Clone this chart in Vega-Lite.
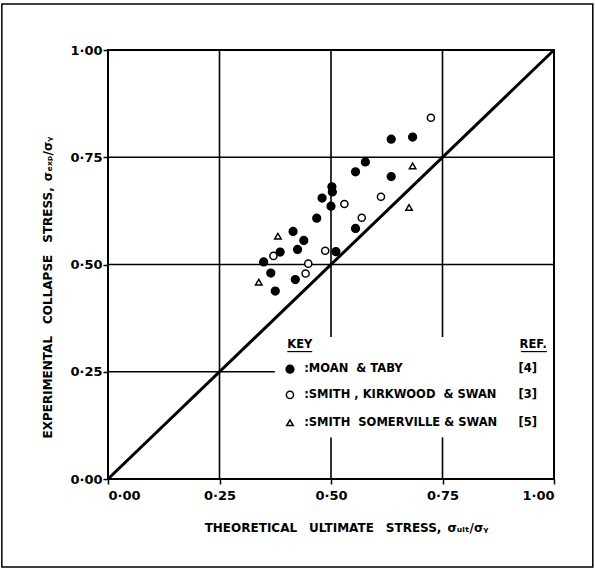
{
  "$schema": "https://vega.github.io/schema/vega-lite/v6.json",
  "width": 446,
  "height": 429,
  "autosize": {"type": "none"},
  "padding": {"left": 108, "top": 50, "right": 41, "bottom": 90},
  "background": "white",
  "config": {
    "view": {"stroke": "black", "strokeWidth": 2},
    "font": "DejaVu Sans",
    "axis": {
      "domain": false,
      "grid": false,
      "ticks": true,
      "tickColor": "black",
      "tickSize": 5,
      "tickWidth": 1.5,
      "labelFont": "DejaVu Sans",
      "labelFontWeight": "bold",
      "labelFontSize": 13,
      "labelColor": "black",
      "titleFont": "DejaVu Sans",
      "titleFontWeight": "bold",
      "titleFontSize": 12,
      "titleColor": "black"
    }
  },
  "datasets": {
    "points": [
      {"series": "Moan & Taby", "x": 0.349, "y": 0.506},
      {"series": "Moan & Taby", "x": 0.365, "y": 0.480},
      {"series": "Moan & Taby", "x": 0.375, "y": 0.438},
      {"series": "Moan & Taby", "x": 0.386, "y": 0.529},
      {"series": "Moan & Taby", "x": 0.415, "y": 0.577},
      {"series": "Moan & Taby", "x": 0.425, "y": 0.535},
      {"series": "Moan & Taby", "x": 0.420, "y": 0.465},
      {"series": "Moan & Taby", "x": 0.439, "y": 0.556},
      {"series": "Moan & Taby", "x": 0.468, "y": 0.608},
      {"series": "Moan & Taby", "x": 0.480, "y": 0.655},
      {"series": "Moan & Taby", "x": 0.502, "y": 0.681},
      {"series": "Moan & Taby", "x": 0.503, "y": 0.669},
      {"series": "Moan & Taby", "x": 0.500, "y": 0.636},
      {"series": "Moan & Taby", "x": 0.511, "y": 0.530},
      {"series": "Moan & Taby", "x": 0.555, "y": 0.716},
      {"series": "Moan & Taby", "x": 0.577, "y": 0.739},
      {"series": "Moan & Taby", "x": 0.555, "y": 0.584},
      {"series": "Moan & Taby", "x": 0.635, "y": 0.792},
      {"series": "Moan & Taby", "x": 0.683, "y": 0.797},
      {"series": "Moan & Taby", "x": 0.635, "y": 0.705},
      {"series": "Smith, Kirkwood & Swan", "x": 0.371, "y": 0.520},
      {"series": "Smith, Kirkwood & Swan", "x": 0.443, "y": 0.479},
      {"series": "Smith, Kirkwood & Swan", "x": 0.449, "y": 0.502},
      {"series": "Smith, Kirkwood & Swan", "x": 0.487, "y": 0.532},
      {"series": "Smith, Kirkwood & Swan", "x": 0.530, "y": 0.641},
      {"series": "Smith, Kirkwood & Swan", "x": 0.569, "y": 0.609},
      {"series": "Smith, Kirkwood & Swan", "x": 0.612, "y": 0.658},
      {"series": "Smith, Kirkwood & Swan", "x": 0.724, "y": 0.842},
      {"series": "Smith, Somerville & Swan", "x": 0.338, "y": 0.459},
      {"series": "Smith, Somerville & Swan", "x": 0.381, "y": 0.566},
      {"series": "Smith, Somerville & Swan", "x": 0.675, "y": 0.633},
      {"series": "Smith, Somerville & Swan", "x": 0.683, "y": 0.730}
    ],
    "legend": [
      {"series": "Moan & Taby", "x": 0.408, "tx": 0.440, "rx": 0.962, "y": 0.256, "label": ":MOAN\u00a0\u00a0& TABY", "ref": "[4]"},
      {"series": "Smith, Kirkwood & Swan", "x": 0.408, "tx": 0.440, "rx": 0.962, "y": 0.196, "label": ":SMITH\u00a0,\u00a0KIRKWOOD\u00a0\u00a0& SWAN", "ref": "[3]"},
      {"series": "Smith, Somerville & Swan", "x": 0.408, "tx": 0.440, "rx": 0.962, "y": 0.131, "label": ":SMITH\u00a0\u00a0SOMERVILLE\u00a0& SWAN", "ref": "[5]"}
    ],
    "headers": [
      {"text": "KEY", "x": 0.402, "y": 0.312, "ux": 0.402, "ux2": 0.458, "uy": 0.297, "side": "left"},
      {"text": "REF.", "x": 0.984, "y": 0.312, "ux": 0.926, "ux2": 0.984, "uy": 0.297, "side": "right"}
    ],
    "grid": [
      {"x": 0.25, "x2": 0.25, "y": 0, "y2": 1},
      {"x": 0.5, "x2": 0.5, "y": 0, "y2": 0.097},
      {"x": 0.5, "x2": 0.5, "y": 0.331, "y2": 1},
      {"x": 0.75, "x2": 0.75, "y": 0, "y2": 0.097},
      {"x": 0.75, "x2": 0.75, "y": 0.331, "y2": 1},
      {"x": 0, "x2": 0.374, "y": 0.25, "y2": 0.25},
      {"x": 0, "x2": 1, "y": 0.5, "y2": 0.5},
      {"x": 0, "x2": 1, "y": 0.75, "y2": 0.75}
    ],
    "diagonal": [{"x": 0, "y": 0}, {"x": 1, "y": 1}],
    "frame": [{"x": -0.238, "x2": 1.087, "y": -0.205, "y2": 1.107}]
  },
  "layer": [
    {
      "data": {"name": "frame"},
      "mark": {"type": "rect", "fill": null, "stroke": "black", "strokeWidth": 1.5, "clip": false},
      "encoding": {
        "x": {"field": "x", "type": "quantitative", "scale": {"domain": [0, 1], "nice": false, "zero": false},
          "axis": {"values": [0, 0.25, 0.5, 0.75, 1], "labelExpr": "replace(format(datum.value, '.2f'), '.', '·')", "labelPadding": 5, "title": "THEORETICAL\u2002\u2002ULTIMATE\u2002\u2002STRESS,\u2002σᵤₗₜ/σᵧ", "titleX": 238, "titleY": 48, "titleBaseline": "middle"}},
        "x2": {"field": "x2"},
        "y": {"field": "y", "type": "quantitative", "scale": {"domain": [0, 1], "nice": false, "zero": false},
          "axis": {"values": [0, 0.25, 0.5, 0.75, 1], "labelExpr": "replace(format(datum.value, '.2f'), '.', '·')", "labelPadding": 1, "title": "EXPERIMENTAL\u2002\u2002COLLAPSE\u2002\u2002STRESS,\u2002σₑₓₚ/σᵧ", "titleX": -61, "titleY": 237, "titleBaseline": "middle", "titleAlign": "center"}},
        "y2": {"field": "y2"}
      }
    },
    {
      "data": {"name": "grid"},
      "mark": {"type": "rule", "color": "black", "strokeWidth": 1.6},
      "encoding": {
        "x": {"field": "x", "type": "quantitative"},
        "x2": {"field": "x2"},
        "y": {"field": "y", "type": "quantitative"},
        "y2": {"field": "y2"}
      }
    },
    {
      "data": {"name": "diagonal"},
      "mark": {"type": "line", "color": "black", "strokeWidth": 3},
      "encoding": {
        "x": {"field": "x", "type": "quantitative"},
        "y": {"field": "y", "type": "quantitative"}
      }
    },
    {
      "data": {"name": "points"},
      "mark": {"type": "point", "filled": false, "stroke": "black", "strokeWidth": 1.5, "opacity": 1},
      "encoding": {
        "x": {"field": "x", "type": "quantitative"},
        "y": {"field": "y", "type": "quantitative"},
        "shape": {"field": "series", "type": "nominal", "scale": {"domain": ["Moan & Taby", "Smith, Kirkwood & Swan", "Smith, Somerville & Swan"], "range": ["circle", "circle", "triangle-up"]}, "legend": null},
        "fill": {"field": "series", "type": "nominal", "scale": {"domain": ["Moan & Taby", "Smith, Kirkwood & Swan", "Smith, Somerville & Swan"], "range": ["black", "white", "white"]}, "legend": null},
        "size": {"field": "series", "type": "nominal", "scale": {"domain": ["Moan & Taby", "Smith, Kirkwood & Swan", "Smith, Somerville & Swan"], "range": [60, 42, 32]}, "legend": null}
      }
    },
    {
      "data": {"name": "legend"},
      "mark": {"type": "point", "filled": false, "stroke": "black", "strokeWidth": 1.5, "opacity": 1},
      "encoding": {
        "x": {"field": "x", "type": "quantitative"},
        "y": {"field": "y", "type": "quantitative"},
        "shape": {"field": "series", "type": "nominal", "legend": null},
        "fill": {"field": "series", "type": "nominal", "legend": null},
        "size": {"field": "series", "type": "nominal", "legend": null}
      }
    },
    {
      "data": {"name": "legend"},
      "mark": {"type": "text", "align": "left", "baseline": "middle", "fontSize": 11.5, "fontWeight": "bold", "font": "DejaVu Sans", "color": "black"},
      "encoding": {
        "x": {"field": "tx", "type": "quantitative"},
        "y": {"field": "y", "type": "quantitative"},
        "text": {"field": "label"}
      }
    },
    {
      "data": {"name": "legend"},
      "mark": {"type": "text", "align": "right", "baseline": "middle", "fontSize": 11.5, "fontWeight": "bold", "font": "DejaVu Sans", "color": "black"},
      "encoding": {
        "x": {"field": "rx", "type": "quantitative"},
        "y": {"field": "y", "type": "quantitative"},
        "text": {"field": "ref"}
      }
    },
    {
      "data": {"name": "headers"},
      "transform": [{"filter": "datum.side == 'left'"}],
      "mark": {"type": "text", "align": "left", "baseline": "middle", "fontSize": 11.5, "fontWeight": "bold", "font": "DejaVu Sans", "color": "black"},
      "encoding": {
        "x": {"field": "x", "type": "quantitative"},
        "y": {"field": "y", "type": "quantitative"},
        "text": {"field": "text"}
      }
    },
    {
      "data": {"name": "headers"},
      "transform": [{"filter": "datum.side == 'right'"}],
      "mark": {"type": "text", "align": "right", "baseline": "middle", "fontSize": 11.5, "fontWeight": "bold", "font": "DejaVu Sans", "color": "black"},
      "encoding": {
        "x": {"field": "x", "type": "quantitative"},
        "y": {"field": "y", "type": "quantitative"},
        "text": {"field": "text"}
      }
    },
    {
      "data": {"name": "headers"},
      "mark": {"type": "rule", "color": "black", "strokeWidth": 1.2},
      "encoding": {
        "x": {"field": "ux", "type": "quantitative"},
        "x2": {"field": "ux2"},
        "y": {"field": "uy", "type": "quantitative"}
      }
    }
  ]
}
